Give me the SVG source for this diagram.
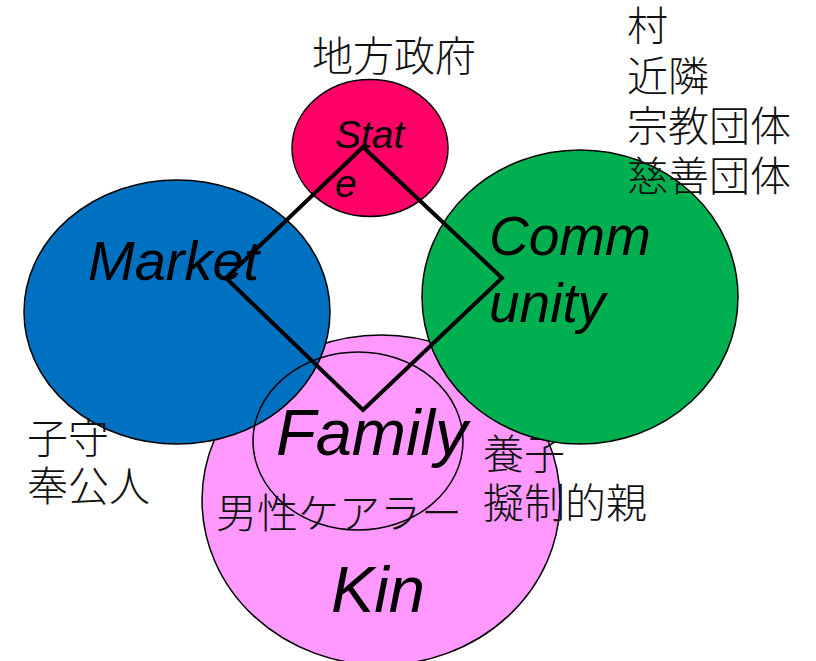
<svg xmlns="http://www.w3.org/2000/svg" width="816" height="661" viewBox="0 0 816 661">
<style>
.shape{stroke:#000;stroke-width:1.5}
.lat{font-family:"Liberation Sans",Arial,sans-serif;font-style:italic;fill:#000}
.jp{font-family:"Noto Sans CJK JP","Noto Sans CJK SC",sans-serif;font-size:41px;font-weight:300;fill:#111}
.conn{fill:none;stroke:#000;stroke-width:4;stroke-linejoin:miter}
</style>
<rect width="816" height="661" fill="#fff"/>
<g id="kin">
<ellipse class="shape" cx="381" cy="500" rx="179" ry="165" fill="#FF99FF"/>
</g>
<g id="market">
<ellipse class="shape" cx="177" cy="312" rx="153" ry="132" fill="#0070C0"/>
</g>
<g id="adoption-labels">
<text class="jp" x="483" y="469">養子</text>
<text class="jp" x="483" y="518">擬制的親</text>
</g>
<g id="community">
<ellipse class="shape" cx="580" cy="297" rx="158" ry="147" fill="#00B050"/>
</g>
<g id="state">
<ellipse class="shape" cx="370" cy="148" rx="78" ry="68.5" fill="#FF0066"/>
</g>
<g id="family">
<ellipse class="shape" cx="358" cy="441" rx="105" ry="89" fill="none"/>
</g>
<g id="connectors">
<polygon class="conn" points="363,147 502,278 363,410 226,278"/>
</g>
<g id="labels">
<text class="lat" x="335" y="148" font-size="39">Stat</text>
<text class="lat" x="335" y="197" font-size="39">e</text>
<text class="lat" x="88" y="280" font-size="56">Market</text>
<text class="lat" x="489" y="255" font-size="55">Comm</text>
<text class="lat" x="489" y="322" font-size="55">unity</text>
<text class="lat" x="276" y="455" font-size="65">Family</text>
<text class="lat" x="331" y="612" font-size="65">Kin</text>
<text class="jp" x="312" y="71">地方政府</text>
<text class="jp" x="627" y="41">村</text>
<text class="jp" x="627" y="91">近隣</text>
<text class="jp" x="627" y="141">宗教団体</text>
<text class="jp" x="627" y="191">慈善団体</text>
<text class="jp" x="27" y="453">子守</text>
<text class="jp" x="27" y="501">奉公人</text>
<text class="jp" x="216" y="528">男性ケアラー</text>
</g>
</svg>
